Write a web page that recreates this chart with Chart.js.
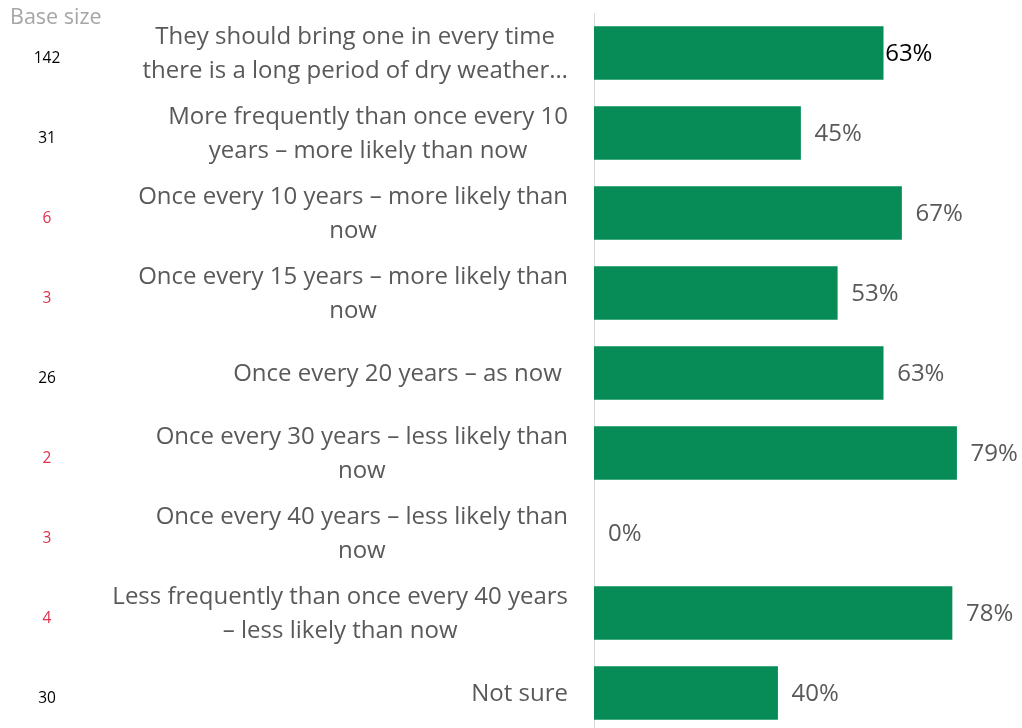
<!DOCTYPE html>
<html>
<head>
<meta charset="utf-8">
<script src="https://cdn.jsdelivr.net/npm/chart.js@4"></script>
<style>
  html, body { margin: 0; padding: 0; background: #fff; overflow: hidden; }
  #wrap { position: relative; width: 1022px; height: 728px; overflow: hidden; }
  #chart { position: absolute; left: 0; top: 0; }
</style>
</head>
<body>
<div id="wrap">
  <canvas id="chart" width="1060" height="740"></canvas>
</div>
<script>
// Categories (each entry is a list of lines)
const categories = [
    ['They should bring one in every time', 'there is a long period of dry weather…'],
    ['More frequently than once every 10', 'years – more likely than now'],
    ['Once every 10 years – more likely than', 'now'],
    ['Once every 15 years – more likely than', 'now'],
    ['Once every 20 years – as now '],
    ['Once every 30 years – less likely than', 'now'],
    ['Once every 40 years – less likely than', 'now'],
    ['Less frequently than once every 40 years', '– less likely than now'],
    ['Not sure']
];

// Percent values
const values = [63, 45, 67, 53, 63, 79, 0, 78, 40];

// Base sizes shown on the left
const baseSizes = [142, 31, 6, 3, 26, 2, 3, 4, 30];
const lowBase = [false, false, true, true, false, true, true, true, false];

const green = '#078c57';
const textGrey = '#595959';
const fontFamily = '"Open Sans", "Segoe UI", sans-serif';

// Draws category labels (centred lines, right-aligned block), base sizes and value labels
const labelPlugin = {
    id: 'labelPlugin',
    afterDraw(chart) {
        const ctx = chart.ctx;
        const yScale = chart.scales.y;
        const meta = chart.getDatasetMeta(0);
        ctx.save();

        // header
        ctx.font = '21.5px ' + fontFamily;
        ctx.fillStyle = '#a6a6a6';
        ctx.textAlign = 'left';
        ctx.textBaseline = 'middle';
        ctx.fillText('Base size', 10, 18);

        categories.forEach((lines, i) => {
            const yc = yScale.getPixelForValue(i);

            // category label
            ctx.font = '24px ' + fontFamily;
            ctx.fillStyle = textGrey;
            ctx.textAlign = 'center';
            ctx.textBaseline = 'middle';
            const maxW = Math.max(...lines.map(l => ctx.measureText(l).width));
            const cx = 568 - maxW / 2;
            const lineH = 34;
            const top = yc + 1 - (lines.length - 1) * lineH / 2;
            lines.forEach((l, j) => ctx.fillText(l, cx, top + j * lineH));

            // base size
            ctx.font = '15.5px ' + fontFamily;
            ctx.fillStyle = lowBase[i] ? '#e0304e' : '#000000';
            ctx.fillText(String(baseSizes[i]), 47, yc + 6);

            // value label
            const bar = meta.data[i];
            ctx.font = '24px ' + fontFamily;
            ctx.textAlign = 'left';
            ctx.fillStyle = i === 0 ? '#000000' : textGrey;
            ctx.fillText(values[i] + '%', bar.x + (i === 0 ? 2 : 14), yc + 1);
        });

        ctx.restore();
    }
};

new Chart(document.getElementById('chart'), {
    type: 'bar',
    data: {
        labels: categories,
        datasets: [{
            data: values,
            backgroundColor: values.map(v => v > 0 ? green : 'rgba(0,0,0,0)'),
            borderWidth: 0,
            barThickness: 53
        }]
    },
    options: {
        indexAxis: 'y',
        responsive: false,
        animation: false,
        layout: { padding: { top: 13, bottom: 7, right: 7 } },
        plugins: {
            legend: { display: false },
            tooltip: { enabled: false }
        },
        scales: {
            x: {
                display: false,
                min: 0,
                max: 100
            },
            y: {
                afterFit(scale) { scale.width = 594; },
                ticks: { display: false },
                grid: { display: false },
                border: { display: true, color: '#d9d9d9', width: 1 }
            }
        }
    },
    plugins: [labelPlugin]
});
</script>
</body>
</html>
